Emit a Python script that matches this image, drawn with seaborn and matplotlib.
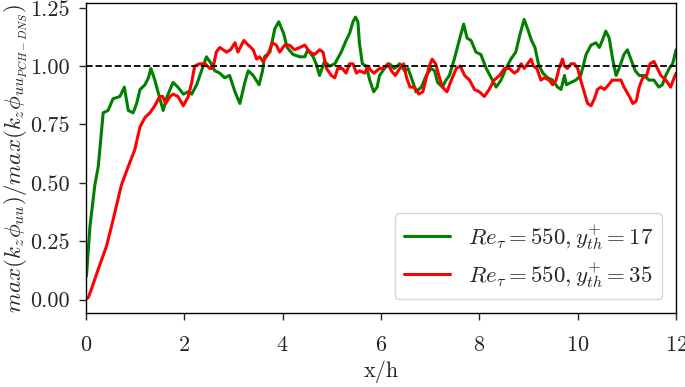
import numpy as np
import pandas as pd
import seaborn as sns
import matplotlib
matplotlib.use("Agg")
import matplotlib.pyplot as plt

# values
x_17 = [0.01, 0.08, 0.18, 0.25, 0.35, 0.45, 0.55, 0.69, 0.78, 0.86, 0.96, 1.03, 1.10, 1.20, 1.27,
        1.32, 1.40, 1.49, 1.57, 1.65, 1.77, 1.87, 1.98, 2.08, 2.15, 2.25, 2.35, 2.45, 2.55, 2.62,
        2.72, 2.82, 2.92, 3.03, 3.13, 3.23, 3.30, 3.40, 3.52, 3.59, 3.63, 3.74, 3.84, 3.92, 4.02,
        4.09, 4.21, 4.35, 4.45, 4.51, 4.62, 4.68, 4.75, 4.85, 4.95, 5.06, 5.19, 5.29, 5.36, 5.43,
        5.48, 5.53, 5.56, 5.62, 5.70, 5.77, 5.85, 5.92, 5.97, 6.07, 6.17, 6.27, 6.38, 6.48, 6.55,
        6.65, 6.71, 6.82, 6.92, 7.02, 7.09, 7.15, 7.25, 7.32, 7.39, 7.49, 7.59, 7.68, 7.75, 7.83,
        7.93, 8.03, 8.14, 8.24, 8.34, 8.44, 8.54, 8.64, 8.74, 8.83, 8.91, 8.98, 9.06, 9.13, 9.20,
        9.29, 9.39, 9.49, 9.59, 9.66, 9.73, 9.77, 9.86, 9.96, 10.06, 10.17, 10.27, 10.37, 10.44,
        10.50, 10.57, 10.64, 10.71, 10.78, 10.84, 10.94, 11.01, 11.08, 11.17, 11.25, 11.35, 11.45,
        11.55, 11.65, 11.72, 11.79, 11.86, 11.93, 12.00]
y_17 = [0.10, 0.31, 0.49, 0.57, 0.80, 0.81, 0.86, 0.87, 0.91, 0.81, 0.80, 0.84, 0.90, 0.92, 0.95,
        0.99, 0.94, 0.87, 0.81, 0.87, 0.93, 0.91, 0.88, 0.89, 0.88, 0.92, 0.98, 1.04, 1.01, 0.98,
        0.97, 0.95, 0.96, 0.89, 0.84, 0.93, 0.98, 0.96, 0.92, 0.98, 1.04, 1.06, 1.16, 1.19, 1.14,
        1.08, 1.05, 1.04, 1.04, 1.07, 1.04, 1.01, 0.96, 1.02, 1.00, 1.01, 1.06, 1.11, 1.14, 1.19,
        1.21, 1.19, 1.10, 1.01, 1.00, 0.94, 0.89, 0.91, 0.96, 0.99, 1.01, 0.99, 1.01, 0.98, 0.99,
        0.93, 0.89, 0.91, 0.96, 0.99, 0.98, 0.93, 0.91, 0.94, 0.96, 1.03, 1.11, 1.18, 1.12, 1.11,
        1.06, 1.05, 0.99, 0.95, 0.91, 0.94, 0.99, 1.03, 1.06, 1.14, 1.20, 1.16, 1.11, 1.08, 1.01,
        0.97, 0.95, 0.94, 0.91, 0.90, 0.96, 0.92, 0.93, 0.94, 0.96, 1.05, 1.09, 1.10, 1.08,
        1.11, 1.15, 1.12, 1.03, 0.96, 0.99, 1.05, 1.07, 1.03, 0.98, 0.96, 0.96, 0.94,
        0.94, 0.91, 0.92, 0.96, 0.99, 1.01, 1.07]

x_35 = [0.00, 0.05, 0.12, 0.25, 0.42, 0.55, 0.72, 0.86, 0.99, 1.10, 1.20, 1.30, 1.40, 1.50, 1.56,
        1.62, 1.71, 1.77, 1.87, 1.98, 2.08, 2.15, 2.21, 2.31, 2.42, 2.52, 2.58, 2.65, 2.72, 2.86,
        2.94, 3.03, 3.09, 3.21, 3.30, 3.40, 3.47, 3.53, 3.60, 3.70, 3.79, 3.87, 3.94, 4.04, 4.14,
        4.24, 4.35, 4.45, 4.55, 4.65, 4.75, 4.82, 4.89, 4.99, 5.06, 5.12, 5.21, 5.29, 5.36, 5.43,
        5.50, 5.56, 5.67, 5.73, 5.80, 5.86, 5.97, 6.05, 6.14, 6.21, 6.29, 6.38, 6.46, 6.52, 6.59,
        6.68, 6.77, 6.85, 6.92, 6.98, 7.04, 7.11, 7.19, 7.25, 7.34, 7.43, 7.53, 7.61, 7.70, 7.80,
        7.90, 8.00, 8.10, 8.20, 8.30, 8.41, 8.51, 8.61, 8.71, 8.78, 8.85, 8.91, 8.98, 9.05, 9.10,
        9.17, 9.25, 9.32, 9.42, 9.49, 9.56, 9.62, 9.69, 9.73, 9.79, 9.86, 9.93, 10.00, 10.06,
        10.13, 10.20, 10.27, 10.34, 10.40, 10.47, 10.54, 10.63, 10.70, 10.78, 10.88, 10.94, 11.05,
        11.12, 11.19, 11.25, 11.32, 11.40, 11.47, 11.55, 11.62, 11.69, 11.79, 11.89, 11.96, 12.00]
y_35 = [0.00, 0.01, 0.05, 0.13, 0.23, 0.34, 0.49, 0.57, 0.64, 0.74, 0.78, 0.80, 0.83, 0.87, 0.87,
        0.84, 0.87, 0.88, 0.87, 0.83, 0.87, 0.93, 1.00, 1.01, 1.01, 0.99, 0.99, 1.06, 1.08, 1.06,
        1.07, 1.10, 1.06, 1.11, 1.09, 1.07, 1.03, 1.04, 1.02, 1.05, 1.10, 1.09, 1.06, 1.09, 1.09,
        1.07, 1.08, 1.09, 1.06, 1.05, 1.07, 1.06, 0.99, 0.96, 0.95, 0.99, 0.99, 0.97, 1.01, 1.01,
        0.97, 0.98, 0.97, 1.00, 0.98, 0.97, 0.99, 0.99, 1.01, 0.98, 0.96, 0.99, 1.01, 0.95, 0.91,
        0.91, 0.88, 0.89, 0.95, 1.00, 1.03, 1.01, 0.95, 0.91, 0.89, 0.94, 0.99, 1.00, 0.96, 0.94,
        0.90, 0.89, 0.87, 0.90, 0.94, 0.96, 0.99, 0.99, 0.97, 0.98, 1.01, 0.99, 1.01, 1.03, 1.00,
        0.99, 0.94, 0.95, 0.94, 0.92, 0.94, 0.99, 1.03, 1.00, 0.99, 1.01, 1.01, 0.99, 0.94,
        0.89, 0.84, 0.83, 0.86, 0.90, 0.91, 0.90, 0.92, 0.94, 0.94, 0.94, 0.91, 0.87,
        0.84, 0.85, 0.91, 0.95, 0.96, 1.01, 1.02, 0.99, 0.96, 0.94, 0.91, 0.95, 0.97]

labels = [r'$Re_{\tau}=550, y^{+}_{th}=17$', r'$Re_{\tau}=550, y^{+}_{th}=35$']
colors = ['green', 'red']

sns.set_style('ticks')
plt.rcParams['font.family'] = ['cmr10', 'DejaVu Serif']
plt.rcParams['mathtext.fontset'] = 'cm'
plt.rcParams['axes.formatter.use_mathtext'] = True
plt.rcParams['axes.unicode_minus'] = False

df_17 = pd.DataFrame({'x': x_17, 'y': y_17})
df_35 = pd.DataFrame({'x': x_35, 'y': y_35})

fig = plt.figure(figsize=(6.85, 3.87), dpi=100)
ax = fig.add_axes([0.1255, 0.191, 0.8615, 0.801])

sns.lineplot(data=df_17, x='x', y='y', color=colors[0], lw=2.2, label=labels[0],
             estimator=None, sort=False, ax=ax)
sns.lineplot(data=df_35, x='x', y='y', color=colors[1], lw=2.2, label=labels[1],
             estimator=None, sort=False, ax=ax)
ax.axhline(1.0, color='black', ls='--', lw=1.3)

ax.set_xlim(0, 12)
ax.set_ylim(-0.058, 1.27)
ax.set_xticks([0, 2, 4, 6, 8, 10, 12])
ax.set_yticks([0.0, 0.25, 0.5, 0.75, 1.0, 1.25])
ax.set_yticklabels(['0.00', '0.25', '0.50', '0.75', '1.00', '1.25'])
ax.tick_params(labelsize=16, direction='out', length=5, width=1)
ax.tick_params(axis='x', pad=11)
ax.tick_params(axis='y', pad=7)
for s in ax.spines.values():
    s.set_linewidth(1)
    s.set_color('black')

ax.set_xlabel('x/h', fontsize=16, labelpad=4)
ax.set_ylabel(r'$max(k_z\phi_{uu})/max(k_z\phi_{uu_{PCH-DNS}})$', fontsize=16.5, labelpad=0)

ax.legend(loc='lower right', fontsize=16.5, frameon=True, fancybox=True,
          edgecolor='#cccccc', framealpha=0.8, borderaxespad=0.6,
          labelspacing=0.35, handlelength=2.0)

fig.savefig('out.png', dpi=100)
